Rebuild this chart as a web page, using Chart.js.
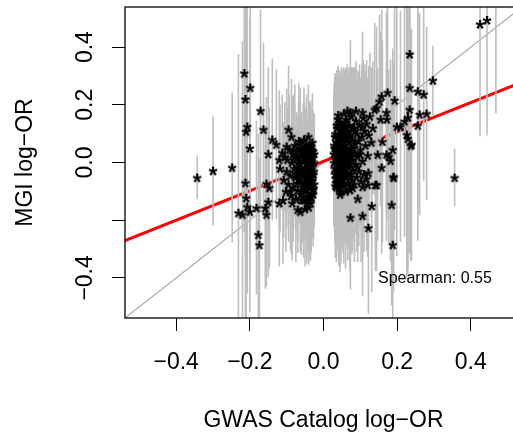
<!DOCTYPE html>
<html>
<head>
<meta charset="utf-8">
<script src="https://cdn.jsdelivr.net/npm/chart.js@4.4.1/dist/chart.umd.min.js"></script>
<style>
  html, body { margin: 0; padding: 0; background: #fff; }
  #wrap { width: 513px; height: 437px; overflow: hidden; }
</style>
</head>
<body>
<div id="wrap"><canvas id="plot" width="540" height="437"></canvas></div>
<script>
// GWAS catalog log-OR (x), MGI log-OR (y) and half width of the MGI interval
const gwasLogOR = [
  // left side, scattered
  -0.343, -0.300, -0.248, -0.215, -0.199, -0.212, -0.171, -0.207, -0.210, -0.163,
  -0.200, -0.150, -0.139, -0.128, -0.095, -0.087, -0.100, -0.041, -0.030, -0.212,
  -0.120, -0.155, -0.147, -0.210, -0.231, -0.220, -0.207, -0.200, -0.182, -0.158,
  -0.155, -0.150, -0.177, -0.174, -0.120, -0.070, -0.063,
  // left cluster
  -0.118, -0.112, -0.108, -0.105, -0.102, -0.100, -0.098, -0.095, -0.093, -0.090,
  -0.088, -0.086, -0.084, -0.082, -0.080, -0.078, -0.076, -0.075, -0.073, -0.071,
  -0.070, -0.068, -0.066, -0.065, -0.063, -0.062, -0.060, -0.059, -0.057, -0.056,
  -0.055, -0.054, -0.052, -0.051, -0.050, -0.049, -0.048, -0.047, -0.046, -0.045,
  -0.044, -0.043, -0.042, -0.041, -0.040, -0.039, -0.038, -0.037, -0.036, -0.035,
  -0.034, -0.033, -0.032, -0.031, -0.030, -0.029, -0.028, -0.027, -0.026, -0.025,
  -0.035, -0.045, -0.053, -0.067, -0.085, -0.110, -0.050, -0.040,
  -0.058, -0.048, -0.044, -0.038, -0.032, -0.028, -0.064, -0.072, -0.081, -0.090,
  -0.062, -0.058, -0.055, -0.052, -0.050, -0.047, -0.045, -0.043, -0.041, -0.039,
  -0.037, -0.036, -0.034, -0.033, -0.031, -0.030, -0.029, -0.027, -0.026, -0.025,
  -0.060, -0.067, -0.069, -0.074, -0.078,
  // right side, scattered
  0.425, 0.444, 0.468, 0.356, 0.234, 0.297, 0.234, 0.256, 0.272, 0.174,
  0.158, 0.152, 0.193, 0.144, 0.171, 0.234, 0.280, 0.261, 0.199, 0.229,
  0.256, 0.226, 0.239, 0.160, 0.147, 0.171, 0.073, 0.106, 0.139, 0.155,
  0.172, 0.220, 0.209, 0.229, 0.237, 0.188, 0.177, 0.182, 0.158, 0.190,
  0.122, 0.117, 0.141, 0.106, 0.190, 0.144, 0.093, 0.131, 0.073, 0.106,
  0.122, 0.185, 0.188, 0.120, 0.079, 0.046,
  // right cluster
  0.028, 0.030, 0.031, 0.032, 0.033, 0.034, 0.035, 0.036, 0.037, 0.038,
  0.039, 0.040, 0.041, 0.042, 0.043, 0.044, 0.045, 0.046, 0.047, 0.048,
  0.049, 0.050, 0.051, 0.052, 0.053, 0.054, 0.055, 0.056, 0.057, 0.058,
  0.059, 0.060, 0.061, 0.062, 0.063, 0.064, 0.065, 0.066, 0.067, 0.068,
  0.069, 0.070, 0.071, 0.072, 0.073, 0.074, 0.075, 0.076, 0.077, 0.078,
  0.079, 0.080, 0.082, 0.083, 0.084, 0.086, 0.087, 0.088, 0.090, 0.091,
  0.093, 0.095, 0.096, 0.098, 0.100, 0.102, 0.104, 0.106, 0.108, 0.110,
  0.112, 0.114, 0.117, 0.120, 0.123, 0.126, 0.130, 0.134, 0.040, 0.055,
  0.065, 0.088, 0.045, 0.060, 0.035, 0.050, 0.062, 0.040, 0.070, 0.053,
  0.029, 0.033, 0.036, 0.041, 0.047, 0.052, 0.058, 0.063, 0.068, 0.072,
  0.081, 0.085, 0.092, 0.099, 0.105,
  0.028, 0.030, 0.031, 0.032, 0.034, 0.035, 0.037, 0.038, 0.039, 0.041,
  0.042, 0.043, 0.044, 0.046, 0.047, 0.049, 0.050, 0.051, 0.053, 0.054,
  0.056, 0.057, 0.059, 0.061, 0.064, 0.066, 0.069, 0.071, 0.076, 0.078
];
const mgiLogOR = [
  -0.052, -0.028, -0.017, 0.310, 0.260, 0.220, 0.180, 0.125, 0.108, 0.115,
  0.050, 0.030, 0.080, 0.063, 0.115, 0.090, 0.056, 0.090, 0.070, -0.070,
  0.010, -0.073, -0.087, -0.122, -0.174, -0.180, -0.153, -0.170, -0.157, -0.157,
  -0.180, -0.136, -0.250, -0.285, -0.140, -0.163, -0.170,
  -0.020, 0.035, -0.060, 0.020, -0.100, -0.030, 0.010, -0.075, 0.045, -0.045,
  -0.115, 0.000, 0.030, -0.085, -0.020, 0.060, -0.050, -0.125, 0.015, -0.035,
  -0.095, 0.040, -0.060, -0.005, 0.070, -0.110, -0.025, 0.025, -0.075, -0.045,
  0.005, -0.130, 0.050, -0.015, -0.090, 0.030, -0.055, -0.030, 0.065, -0.005,
  -0.070, 0.015, -0.105, -0.040, 0.040, -0.020, -0.080, 0.010, -0.050, 0.055,
  -0.030, -0.120, 0.025, -0.065, -0.010, -0.095, 0.040, -0.040, 0.000, -0.075,
  -0.140, -0.140, 0.080, 0.075, -0.140, -0.130, -0.160, -0.155,
  -0.100, 0.040, -0.120, 0.060, -0.050, -0.110, 0.050, -0.070, 0.045, -0.100,
  0.020, -0.035, 0.045, -0.070, 0.015, -0.095, 0.030, -0.050, 0.000, -0.130,
  0.035, -0.085, 0.005, -0.020, 0.045, -0.060, 0.020, -0.090, -0.030, 0.030,
  -0.130, -0.020, 0.000, -0.040, 0.020,
  0.480, 0.494, 0.620, -0.052, 0.376, 0.285, 0.260, 0.247, 0.237, 0.243,
  0.230, 0.212, 0.216, 0.190, 0.174, 0.184, 0.170, 0.167, 0.125, 0.157,
  0.129, 0.097, 0.063, 0.073, 0.028, 0.028, 0.174, 0.174, 0.184, 0.150,
  0.150, 0.143, 0.125, 0.083, 0.059, 0.045, 0.021, 0.007, -0.017, -0.049,
  -0.035, -0.056, -0.077, -0.084, -0.052, -0.077, -0.125, -0.150, -0.190, -0.184,
  -0.226, -0.146, -0.285, -0.077, -0.087, -0.100,
  0.000, 0.050, -0.040, 0.100, 0.020, -0.070, 0.070, -0.020, 0.120, 0.035,
  -0.055, 0.085, 0.005, -0.090, 0.055, -0.030, 0.140, 0.020, -0.065, 0.100,
  -0.010, 0.045, -0.045, 0.075, 0.000, 0.125, -0.080, 0.030, -0.020, 0.090,
  0.060, -0.050, 0.015, 0.150, -0.035, 0.040, 0.110, -0.070, 0.005, 0.070,
  -0.015, 0.130, 0.025, -0.095, 0.095, -0.040, 0.050, 0.160, -0.060, 0.010,
  0.080, -0.025, 0.120, 0.035, -0.075, 0.065, -0.005, 0.145, -0.050, 0.100,
  0.020, 0.075, -0.030, 0.130, 0.045, -0.065, 0.090, 0.005, 0.155, -0.040,
  0.110, 0.060, 0.135, 0.025, 0.095, 0.160, 0.070, 0.120, 0.165, 0.170,
  0.180, 0.180, -0.110, -0.100, -0.085, 0.110, 0.085, 0.030, -0.005, 0.035,
  0.060, -0.055, 0.130, -0.075, 0.115, -0.030, 0.140, 0.100, -0.045, 0.045,
  0.050, 0.110, -0.015, 0.030, 0.125,
  0.030, -0.020, 0.090, -0.080, 0.045, 0.010, -0.030, 0.070, 0.150, 0.025,
  -0.050, 0.095, 0.000, 0.060, -0.090, 0.130, -0.015, 0.080, -0.060, 0.050,
  0.105, 0.015, -0.035, 0.125, -0.010, 0.085, 0.040, -0.080, 0.020, 0.120
];
const mgiHalfCI = [
  0.075, 0.190, 0.260, 0.550, 0.500, 0.550, 0.350, 0.450, 0.500, 0.300,
  0.450, 0.300, 0.280, 0.260, 0.220, 0.200, 0.200, 0.180, 0.170, 0.500,
  0.240, 0.300, 0.280, 0.500, 0.550, 0.600, 0.300, 0.350, 0.300, 0.280,
  0.250, 0.260, 0.350, 0.300, 0.220, 0.150, 0.140,
  0.220, 0.200, 0.200, 0.190, 0.210, 0.200, 0.180, 0.200, 0.190, 0.170,
  0.200, 0.180, 0.200, 0.190, 0.170, 0.210, 0.180, 0.220, 0.160, 0.160,
  0.180, 0.170, 0.150, 0.150, 0.190, 0.200, 0.140, 0.150, 0.170, 0.150,
  0.140, 0.200, 0.160, 0.130, 0.170, 0.140, 0.150, 0.140, 0.170, 0.130,
  0.160, 0.130, 0.180, 0.140, 0.150, 0.130, 0.160, 0.120, 0.140, 0.160,
  0.130, 0.190, 0.130, 0.150, 0.120, 0.170, 0.140, 0.130, 0.120, 0.150,
  0.200, 0.210, 0.180, 0.200, 0.200, 0.220, 0.200, 0.200,
  0.180, 0.150, 0.190, 0.150, 0.140, 0.180, 0.170, 0.180, 0.190, 0.200,
  0.150, 0.150, 0.160, 0.160, 0.140, 0.170, 0.140, 0.150, 0.130, 0.190,
  0.140, 0.160, 0.130, 0.130, 0.150, 0.140, 0.130, 0.170, 0.130, 0.140,
  0.190, 0.160, 0.160, 0.170, 0.180,
  0.390, 0.400, 0.450, 0.100, 0.500, 0.120, 0.450, 0.450, 0.300, 0.400,
  0.300, 0.300, 0.450, 0.280, 0.350, 0.500, 0.300, 0.350, 0.450, 0.550,
  0.400, 0.500, 0.400, 0.350, 0.300, 0.300, 0.250, 0.280, 0.300, 0.300,
  0.350, 0.400, 0.400, 0.450, 0.400, 0.350, 0.300, 0.350, 0.300, 0.350,
  0.250, 0.250, 0.300, 0.250, 0.400, 0.300, 0.220, 0.300, 0.250, 0.280,
  0.300, 0.350, 0.350, 0.250, 0.220, 0.200,
  0.220, 0.220, 0.240, 0.210, 0.220, 0.260, 0.220, 0.230, 0.200, 0.220,
  0.250, 0.220, 0.220, 0.270, 0.230, 0.240, 0.180, 0.230, 0.260, 0.210,
  0.230, 0.230, 0.250, 0.220, 0.230, 0.200, 0.270, 0.230, 0.240, 0.220,
  0.230, 0.250, 0.230, 0.180, 0.250, 0.230, 0.210, 0.270, 0.230, 0.230,
  0.240, 0.200, 0.240, 0.280, 0.220, 0.250, 0.240, 0.170, 0.260, 0.240,
  0.230, 0.250, 0.210, 0.240, 0.270, 0.230, 0.240, 0.190, 0.260, 0.220,
  0.250, 0.240, 0.260, 0.210, 0.250, 0.280, 0.230, 0.260, 0.200, 0.270,
  0.230, 0.250, 0.220, 0.270, 0.240, 0.220, 0.260, 0.230, 0.170, 0.160,
  0.160, 0.170, 0.270, 0.270, 0.260, 0.210, 0.230, 0.230, 0.230, 0.230,
  0.220, 0.240, 0.190, 0.260, 0.200, 0.240, 0.180, 0.210, 0.250, 0.230,
  0.240, 0.220, 0.250, 0.250, 0.220,
  0.210, 0.220, 0.210, 0.250, 0.220, 0.220, 0.230, 0.220, 0.180, 0.220,
  0.240, 0.210, 0.220, 0.220, 0.260, 0.200, 0.230, 0.220, 0.250, 0.220,
  0.210, 0.230, 0.240, 0.200, 0.230, 0.220, 0.230, 0.260, 0.240, 0.210
];

const xTicks = [-0.4, -0.2, 0.0, 0.2, 0.4];
const yTicks = [-0.4, -0.2, 0.0, 0.2, 0.4];
const yTickLabels = ["\u22120.4", "", "0.0", "0.2", "0.4"];
const axisMin = -0.539;
const axisMax = 0.539;

// linear fit of MGI on GWAS (red line)
const fitSlope = 0.51;
const fitIntercept = 0.004;
const spearmanText = "Spearman: 0.55";

const FONT = '"Liberation Sans", Arial, Helvetica, sans-serif';

// R-like "*" plotting symbol
function makeStar() {
    const c = document.createElement("canvas");
    c.width = 16; c.height = 16;
    const g = c.getContext("2d");
    g.font = "bold 23px " + FONT;
    g.fillStyle = "#000";
    g.textAlign = "center";
    g.textBaseline = "alphabetic";
    const m = g.measureText("*");
    const mid = (m.actualBoundingBoxAscent - m.actualBoundingBoxDescent) / 2;
    g.fillText("*", 8, 8 + mid);
    return c;
}

const points = gwasLogOR.map((x, i) => ({ x: x, y: mgiLogOR[i] }));
const lineX = [-0.6, 0.6];

const errorBars = {
    id: "errorBars",
    beforeDatasetDraw(chart, args) {
        if (args.index !== 0) return;
        const ctx = chart.ctx, xs = chart.scales.x, ys = chart.scales.y, a = chart.chartArea;
        ctx.save();
        ctx.beginPath();
        ctx.rect(a.left, a.top, a.right - a.left, a.bottom - a.top);
        ctx.clip();
        ctx.strokeStyle = "#bebebe";
        ctx.lineWidth = 1.6;
        gwasLogOR.forEach((x, i) => {
            const px = xs.getPixelForValue(x);
            ctx.beginPath();
            ctx.moveTo(px, ys.getPixelForValue(mgiLogOR[i] + mgiHalfCI[i]));
            ctx.lineTo(px, ys.getPixelForValue(mgiLogOR[i] - mgiHalfCI[i]));
            ctx.stroke();
        });
        ctx.restore();
    }
};

const rText = {
    id: "rText",
    afterDraw(chart) {
        const ctx = chart.ctx, a = chart.chartArea, ys = chart.scales.y;
        ctx.save();
        ctx.strokeStyle = "#000";
        ctx.lineWidth = 1.3;
        ctx.strokeRect(a.left, a.top, a.right - a.left, a.bottom - a.top);

        ctx.fillStyle = "#000";
        ctx.font = "23px " + FONT;
        ctx.textAlign = "center";
        ctx.textBaseline = "alphabetic";
        yTicks.forEach((v, i) => {
            if (!yTickLabels[i]) return;
            ctx.save();
            ctx.translate(92, ys.getPixelForValue(v));
            ctx.rotate(-Math.PI / 2);
            ctx.fillText(yTickLabels[i], 0, 0);
            ctx.restore();
        });

        ctx.save();
        ctx.translate(32, (a.top + a.bottom) / 2);
        ctx.rotate(-Math.PI / 2);
        ctx.fillText("MGI log\u2212OR", 0, 0);
        ctx.restore();

        ctx.fillText("GWAS Catalog log\u2212OR", (a.left + a.right) / 2, 427);

        ctx.font = "16px " + FONT;
        ctx.textAlign = "left";
        ctx.fillText(spearmanText, 378, 283);
        ctx.restore();
    }
};

new Chart(document.getElementById("plot"), {
    type: "scatter",
    data: {
        datasets: [
            {
                data: points,
                pointStyle: makeStar(),
                pointRadius: 5,
                order: 0
            },
            {
                type: "line",
                data: lineX.map(x => ({ x: x, y: fitSlope * x + fitIntercept })),
                borderColor: "#ff0000",
                borderWidth: 3,
                pointRadius: 0,
                order: 1
            },
            {
                type: "line",
                data: lineX.map(x => ({ x: x, y: x })),
                borderColor: "#a8a8a8",
                borderWidth: 1.2,
                pointRadius: 0,
                order: 2
            }
        ]
    },
    options: {
        responsive: false,
        animation: false,
        devicePixelRatio: 1,
        layout: { padding: { top: 7, right: 18, left: 0, bottom: 0 } },
        plugins: {
            legend: { display: false },
            tooltip: { enabled: false }
        },
        scales: {
            x: {
                type: "linear",
                min: axisMin,
                max: axisMax,
                afterBuildTicks: s => { s.ticks = xTicks.map(v => ({ value: v })); },
                afterFit: s => { s.height = 119; },
                border: { display: false },
                grid: { drawOnChartArea: false, drawTicks: true, tickLength: 13, color: "#000", lineWidth: 1 },
                ticks: {
                    color: "#000",
                    padding: 18,
                    maxRotation: 0,
                    font: { family: FONT, size: 23 },
                    callback: v => v.toFixed(1).replace("-", "\u2212")
                }
            },
            y: {
                type: "linear",
                min: axisMin,
                max: axisMax,
                afterBuildTicks: s => { s.ticks = yTicks.map(v => ({ value: v })); },
                afterFit: s => { s.width = 125; },
                border: { display: false },
                grid: { drawOnChartArea: false, drawTicks: true, tickLength: 13, color: "#000", lineWidth: 1 },
                ticks: { display: false }
            }
        }
    },
    plugins: [errorBars, rText]
});
</script>
</body>
</html>
